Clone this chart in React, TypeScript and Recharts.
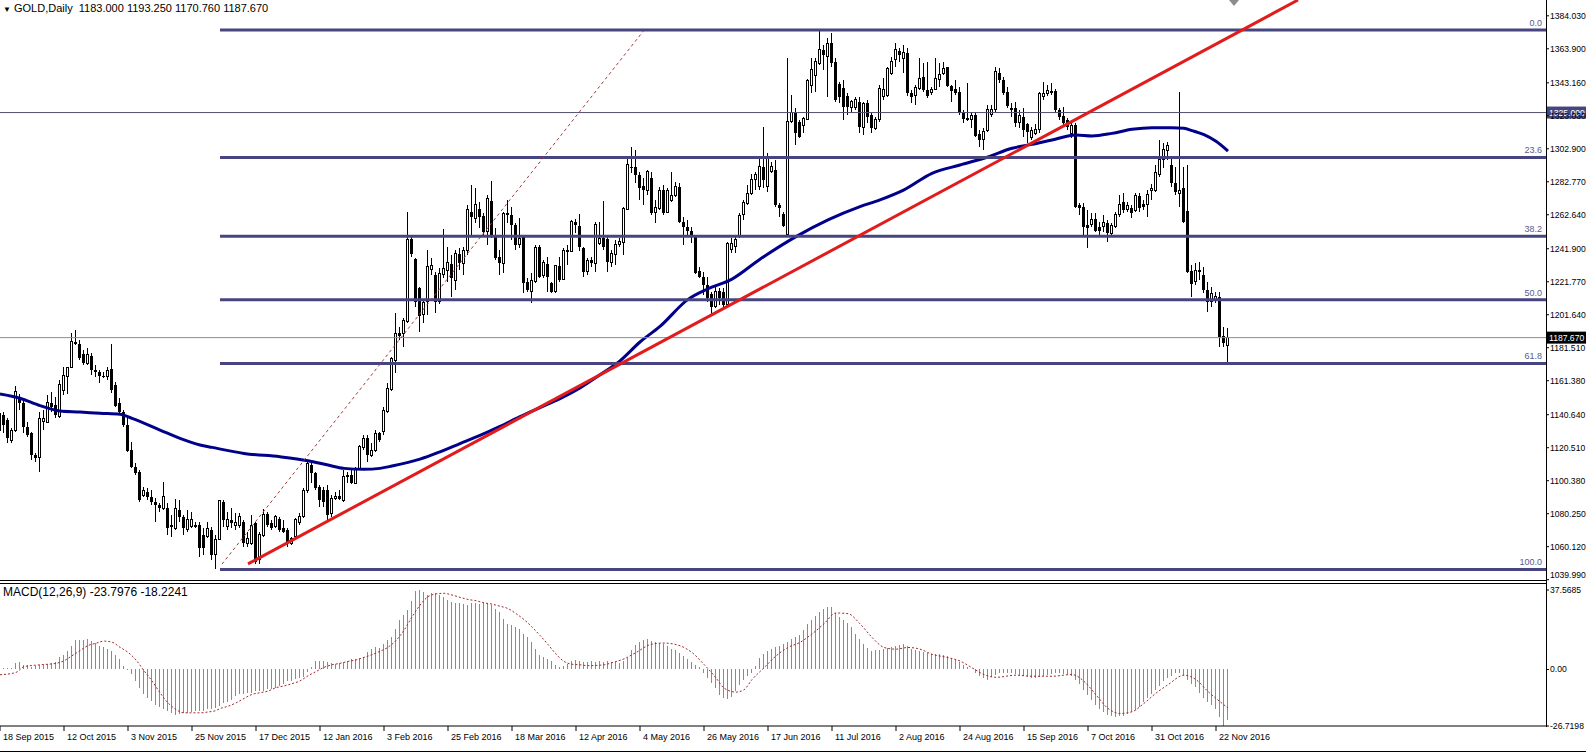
import React from 'react';
import { ComposedChart, Bar, Line, XAxis, YAxis, ReferenceLine } from 'recharts';

const FONT = '"Liberation Sans", Arial, sans-serif';

// ---------- daily OHLC (bar 0 = 18 Sep 2015 ... bar 307 = 25 Nov 2016) ----------
const opens = [
  1131.3,1140.5,1137.4,1125.2,1131.3,1151.7,1147.6,1133.4,1129.3,1116.1,
  1114.4,1136.4,1136.0,1147.6,1146.6,1139.5,1155.7,1163.9,1169.4,1184.8,
  1183.6,1177.5,1172.0,1176.3,1167.9,1166.5,1164.5,1163.9,1168.5,1158.8,
  1147.6,1142.5,1134.4,1119.1,1108.9,1105.9,1091.3,1093.7,1090.6,1087.6,
  1085.6,1083.5,1083.9,1073.4,1071.3,1082.5,1078.4,1070.3,1072.3,1073.4,
  1073.4,1067.3,1066.2,1070.3,1055.1,1064.6,1087.6,1072.3,1076.4,1073.3,
  1073.3,1075.3,1062.1,1062.1,1074.7,1052.0,1067.2,1080.0,1074.3,1072.3,
  1077.0,1071.3,1070.3,1062.1,1066.2,1074.7,1078.4,1094.7,1109.9,1104.8,
  1096.7,1094.7,1094.7,1080.4,1089.6,1091.0,1088.6,1102.8,1103.8,1098.7,
  1107.9,1120.7,1126.2,1116.0,1119.1,1129.2,1130.3,1142.5,1156.1,1174.0,
  1190.3,1190.3,1197.4,1247.8,1235.6,1217.7,1201.5,1209.6,1229.3,1225.9,
  1209.6,1225.9,1228.9,1232.6,1222.8,1238.7,1232.6,1240.7,1264.5,1260.5,
  1265.9,1261.9,1252.3,1271.2,1250.3,1236.7,1233.0,1263.5,1262.5,1256.4,
  1244.2,1248.9,1221.8,1215.7,1221.8,1242.8,1225.3,1232.6,1220.8,1215.7,
  1231.4,1223.4,1240.5,1240.5,1258.4,1256.0,1242.1,1227.9,1235.0,1233.0,
  1245.2,1248.3,1247.8,1233.6,1238.1,1244.6,1245.8,1266.1,1292.0,1292.0,
  1286.9,1280.4,1277.7,1284.9,1264.1,1266.5,1277.7,1264.1,1271.6,1274.3,
  1279.8,1258.4,1255.4,1252.7,1249.9,1228.3,1224.8,1219.8,1214.1,1206.5,
  1216.1,1215.7,1208.0,1241.2,1243.2,1249.3,1263.1,1269.6,1275.7,1283.9,
  1279.8,1292.0,1279.8,1289.0,1290.0,1268.6,1263.1,1250.3,1319.5,1324.9,
  1319.5,1317.4,1320.9,1341.8,1347.9,1355.1,1363.2,1359.1,1367.3,1356.1,
  1342.4,1339.8,1335.1,1328.2,1328.2,1331.7,1316.0,1330.7,1323.5,1315.4,
  1320.5,1334.7,1335.7,1348.9,1357.1,1362.8,1358.1,1361.6,1336.8,1335.1,
  1339.8,1346.9,1338.8,1337.2,1339.2,1345.3,1349.0,1352.6,1341.2,1339.2,
  1337.8,1324.5,1321.5,1320.9,1323.5,1311.9,1308.3,1314.0,1324.1,1326.6,
  1349.4,1344.9,1337.8,1327.6,1327.6,1318.8,1322.1,1318.0,1309.9,1312.3,
  1314.8,1334.7,1336.8,1337.8,1338.4,1326.6,1322.9,1320.5,1312.3,1317.4,
  1268.6,1267.6,1256.4,1256.4,1259.8,1255.4,1255.4,1257.8,1250.9,1255.4,
  1263.1,1270.6,1266.0,1266.6,1265.1,1274.1,1269.2,1268.6,1277.7,1277.7,
  1287.5,1296.4,1302.1,1293.0,1281.8,1275.7,1278.7,1265.1,1228.5,1221.8,
  1227.9,1225.9,1216.7,1209.6,1210.6,1212.6,1188.7,1183.0,
];
const highs = [
  1142.5,1142.5,1138.4,1132.3,1158.2,1153.3,1149.7,1136.0,1130.3,1117.1,
  1142.5,1143.5,1152.7,1154.7,1151.7,1161.8,1170.0,1170.0,1190.3,1192.3,
  1186.2,1180.1,1181.2,1178.1,1171.0,1167.9,1166.9,1170.0,1183.6,1160.8,
  1150.7,1143.5,1138.4,1124.2,1111.0,1106.9,1096.7,1095.7,1094.7,1089.6,
  1086.6,1099.4,1086.6,1079.5,1089.2,1088.6,1079.5,1082.5,1081.5,1075.4,
  1075.4,1071.3,1075.4,1072.3,1067.3,1088.9,1088.6,1081.4,1083.5,1080.4,
  1080.4,1076.4,1069.3,1079.4,1075.3,1069.2,1082.9,1081.4,1076.4,1079.4,
  1078.4,1076.4,1071.3,1066.2,1077.4,1080.4,1095.7,1113.0,1111.9,1105.8,
  1097.7,1096.7,1097.7,1091.6,1093.6,1094.7,1106.9,1105.8,1107.9,1108.9,
  1122.1,1128.2,1128.2,1123.1,1131.3,1130.3,1145.3,1159.8,1176.0,1202.5,
  1194.3,1199.4,1264.5,1249.3,1236.0,1218.8,1210.6,1241.1,1236.0,1227.9,
  1229.9,1253.8,1243.2,1238.1,1241.1,1242.2,1243.2,1268.6,1280.8,1278.8,
  1270.6,1263.5,1274.7,1283.4,1254.4,1241.1,1264.5,1271.6,1267.6,1257.4,
  1260.5,1250.3,1223.8,1226.9,1244.2,1244.2,1235.0,1237.0,1221.8,1232.0,
  1237.0,1242.1,1244.2,1259.4,1260.0,1262.9,1243.2,1236.0,1237.0,1258.4,
  1258.4,1271.0,1249.3,1241.1,1247.3,1248.3,1267.6,1297.1,1304.2,1302.1,
  1288.9,1284.9,1289.9,1288.9,1271.6,1279.8,1280.8,1278.8,1288.9,1282.4,
  1281.8,1261.5,1259.4,1255.4,1250.3,1231.0,1227.9,1224.8,1215.7,1219.8,
  1217.7,1217.7,1246.2,1248.3,1249.3,1263.5,1271.7,1280.8,1287.5,1289.0,
  1298.1,1316.4,1300.1,1295.1,1296.1,1269.6,1264.6,1358.1,1335.7,1327.6,
  1320.5,1322.5,1345.3,1358.1,1358.1,1375.2,1366.2,1370.3,1373.8,1358.1,
  1343.9,1344.9,1336.8,1332.7,1334.7,1334.7,1331.7,1332.7,1324.5,1322.5,
  1341.8,1345.9,1353.0,1359.1,1367.7,1364.2,1366.2,1364.2,1338.8,1341.8,
  1358.1,1355.1,1356.1,1340.8,1358.1,1355.1,1356.1,1353.0,1341.8,1344.9,
  1340.8,1326.6,1342.9,1325.6,1325.6,1314.4,1315.4,1329.6,1329.6,1353.0,
  1352.0,1346.9,1340.8,1330.7,1331.7,1326.6,1327.6,1318.4,1316.4,1318.0,
  1337.8,1343.9,1341.8,1342.9,1339.2,1327.6,1328.2,1321.5,1319.5,1318.4,
  1269.6,1269.6,1265.5,1263.5,1263.5,1258.4,1262.5,1259.4,1257.4,1264.5,
  1274.7,1275.7,1270.6,1268.6,1275.7,1275.7,1271.6,1277.7,1281.4,1293.0,
  1308.3,1306.2,1307.2,1298.1,1292.0,1337.7,1291.6,1293.0,1231.9,1233.4,
  1234.0,1230.9,1221.8,1218.8,1215.7,1215.7,1194.3,1193.25,
];
const lows = [
  1130.3,1129.3,1123.2,1123.2,1130.3,1143.5,1129.3,1127.3,1113.0,1112.0,
  1105.9,1131.3,1135.4,1142.5,1138.4,1138.4,1152.7,1153.1,1169.0,1183.2,
  1174.0,1171.0,1171.0,1164.9,1163.9,1159.8,1162.9,1161.8,1153.7,1145.6,
  1140.5,1133.4,1118.1,1107.9,1103.9,1087.6,1090.6,1088.6,1085.6,1075.4,
  1081.5,1082.5,1067.3,1066.2,1070.3,1075.4,1067.3,1069.3,1071.3,1071.3,
  1054.0,1055.1,1065.2,1052.0,1046.5,1064.2,1072.3,1070.3,1071.3,1070.3,
  1071.3,1060.1,1060.1,1061.1,1049.5,1049.5,1066.2,1072.3,1070.3,1071.3,
  1069.2,1068.2,1060.1,1061.1,1065.2,1073.3,1077.4,1092.6,1098.7,1094.7,
  1084.5,1084.5,1075.3,1078.4,1088.6,1088.6,1087.6,1098.7,1098.3,1098.3,
  1106.9,1119.1,1111.9,1115.0,1118.1,1124.2,1128.2,1141.5,1155.0,1165.9,
  1186.2,1182.1,1196.4,1237.0,1206.5,1191.3,1196.4,1201.5,1225.9,1202.5,
  1208.2,1223.8,1221.8,1212.6,1216.7,1228.9,1225.9,1238.1,1250.3,1257.4,
  1254.4,1249.3,1244.2,1248.3,1235.0,1225.9,1226.9,1257.4,1247.3,1241.1,
  1242.2,1214.7,1215.7,1209.0,1220.8,1223.8,1223.8,1215.7,1215.1,1214.7,
  1221.8,1222.8,1232.0,1240.1,1251.3,1240.5,1224.8,1225.9,1230.9,1227.9,
  1244.2,1241.1,1227.9,1230.9,1232.0,1243.2,1238.1,1265.5,1287.9,1281.8,
  1271.6,1268.6,1274.7,1262.5,1257.4,1265.5,1262.5,1263.5,1270.6,1273.7,
  1257.4,1244.2,1250.3,1245.2,1226.3,1223.8,1213.7,1209.6,1201.9,1205.9,
  1207.6,1206.5,1207.6,1239.1,1239.1,1248.3,1259.5,1268.6,1274.7,1277.8,
  1277.8,1278.8,1276.7,1287.9,1267.6,1261.5,1255.4,1249.7,1318.4,1305.2,
  1309.3,1312.3,1320.5,1336.8,1337.8,1354.0,1351.0,1334.7,1353.0,1331.7,
  1330.7,1320.5,1323.5,1324.5,1326.6,1312.3,1311.3,1318.4,1312.3,1314.4,
  1319.5,1332.7,1334.7,1347.9,1353.0,1356.1,1349.0,1335.2,1330.7,1329.6,
  1338.8,1337.8,1333.7,1335.7,1338.8,1340.8,1347.9,1340.8,1331.7,1335.7,
  1323.5,1318.4,1320.0,1315.4,1310.3,1304.2,1302.2,1313.4,1322.5,1325.6,
  1342.9,1335.7,1327.6,1322.5,1316.4,1315.4,1310.3,1306.2,1308.3,1311.3,
  1312.3,1332.7,1335.1,1335.7,1325.0,1320.5,1317.4,1314.4,1309.3,1266.5,
  1262.5,1250.3,1242.1,1255.4,1252.3,1250.3,1252.3,1246.2,1249.3,1254.4,
  1261.5,1263.9,1264.5,1260.4,1264.5,1264.5,1265.5,1261.5,1271.6,1276.7,
  1285.9,1290.9,1296.0,1279.8,1274.7,1267.6,1257.4,1226.9,1212.6,1219.8,
  1222.8,1214.7,1203.5,1206.5,1208.6,1182.1,1182.1,1170.76,
];
const closes = [
  1141.5,1134.4,1126.2,1131.3,1154.7,1147.6,1133.4,1128.3,1116.1,1114.0,
  1138.4,1138.4,1148.2,1145.6,1140.5,1158.8,1164.5,1169.6,1185.2,1183.6,
  1175.1,1172.0,1177.1,1167.9,1166.5,1164.5,1163.9,1167.9,1155.7,1146.2,
  1142.5,1134.4,1118.5,1108.9,1104.9,1088.6,1094.1,1090.6,1087.6,1085.6,
  1083.5,1090.6,1071.3,1072.3,1083.5,1078.4,1071.3,1077.0,1077.0,1072.3,
  1059.1,1059.1,1071.3,1055.1,1064.2,1088.0,1076.4,1076.4,1074.3,1074.7,
  1078.4,1062.1,1065.2,1073.3,1050.9,1067.6,1080.0,1073.3,1071.3,1078.4,
  1070.3,1069.2,1063.1,1065.2,1076.4,1078.8,1094.7,1110.9,1104.8,1095.7,
  1088.6,1087.6,1079.4,1089.6,1090.6,1089.0,1102.8,1103.8,1098.7,1107.9,
  1121.1,1126.2,1116.0,1119.1,1129.2,1125.2,1143.5,1156.7,1175.0,1190.3,
  1188.8,1198.4,1247.8,1238.7,1209.6,1200.9,1209.0,1231.0,1231.4,1209.6,
  1226.9,1229.9,1233.4,1223.8,1239.1,1233.0,1240.7,1266.0,1261.5,1268.6,
  1261.5,1252.3,1272.7,1250.3,1236.0,1233.0,1263.5,1262.5,1256.4,1244.2,
  1248.3,1220.8,1216.7,1222.8,1242.8,1224.8,1233.4,1224.4,1215.7,1231.4,
  1222.8,1241.1,1241.1,1258.4,1256.4,1243.2,1227.9,1235.0,1233.0,1256.4,
  1248.3,1243.2,1234.0,1239.1,1244.2,1246.6,1266.5,1293.4,1291.0,1286.9,
  1278.8,1277.7,1288.9,1263.5,1266.9,1277.7,1263.5,1277.7,1274.3,1279.8,
  1258.4,1255.4,1252.7,1250.3,1226.9,1224.8,1219.8,1211.6,1206.5,1216.1,
  1211.6,1207.6,1245.2,1245.2,1247.3,1261.9,1270.0,1275.7,1284.3,1286.9,
  1292.0,1283.9,1297.7,1292.0,1268.6,1266.6,1255.8,1319.5,1324.9,1312.3,
  1310.3,1321.5,1344.5,1351.0,1356.1,1363.2,1360.1,1366.9,1355.1,1332.7,
  1334.3,1328.6,1328.6,1331.7,1332.7,1316.0,1330.7,1322.5,1315.4,1320.9,
  1339.8,1339.2,1352.0,1356.1,1363.2,1360.1,1361.6,1336.8,1334.7,1340.4,
  1345.9,1338.8,1335.1,1339.2,1345.9,1348.5,1352.0,1341.2,1338.4,1337.2,
  1324.5,1320.9,1320.5,1322.9,1310.7,1308.3,1313.4,1326.6,1326.6,1350.0,
  1344.9,1337.2,1329.0,1326.6,1318.4,1322.9,1314.4,1313.4,1314.0,1314.8,
  1336.8,1336.8,1338.4,1338.0,1326.6,1322.1,1318.8,1316.4,1317.4,1267.6,
  1266.5,1255.4,1254.4,1259.8,1252.9,1252.9,1257.8,1251.3,1255.8,1263.1,
  1269.2,1265.5,1268.0,1263.5,1274.1,1266.5,1267.2,1275.3,1278.7,1288.3,
  1296.4,1302.5,1304.6,1281.8,1276.7,1277.7,1258.4,1227.9,1220.4,1228.5,
  1228.9,1216.7,1209.6,1214.7,1212.6,1188.3,1184.2,1187.67,
];

// ---------- moving average (read at sample bars) ----------
const maBars = [0,5,10,15,20,25,30,33,40,45,50,53,61,70,77,82,86,91,95,98,105,110,115,120,125,130,135,140,145,150,155,160,165,172,177,183,190,199,207,215,220,226,233,240,247,253,258,263,269,273,278,283,288,293,296,298,301,304,307];
const maValues = [1153.3,1150.7,1146.2,1142.9,1142.3,1141.5,1140.9,1138.4,1131.3,1126.2,1122.2,1120.7,1117.0,1115.0,1112.6,1109.9,1107.9,1107.3,1107.9,1109.3,1113.5,1118.0,1123.0,1128.0,1133.5,1139.5,1145.0,1150.5,1157.0,1165.0,1173.5,1185.0,1194.5,1211.0,1217.5,1223.4,1235.5,1249.3,1259.5,1267.6,1271.7,1277.8,1287.9,1293.0,1297.9,1303.2,1305.6,1308.3,1311.3,1310.7,1312.3,1314.8,1315.8,1315.8,1315.4,1314.0,1311.5,1307.5,1301.5];

// ---------- MACD(12,26,9) ----------
const macdValues = [
  0.5,0.5,0.6,0.8,2.9,3.3,2.2,2.2,1.3,1.8,
  2.2,2.2,2.5,2.9,3.3,5.7,7.0,8.9,11.3,13.7,
  14.0,14.0,14.5,13.4,12.4,11.3,10.5,9.7,8.6,7.0,
  4.9,1.8,-0.3,-2.2,-5.4,-8.6,-11.8,-13.4,-15.0,-16.6,
  -17.8,-18.9,-19.7,-20.5,-21.7,-21.0,-20.5,-20.5,-20.2,-19.4,
  -19.7,-19.7,-18.9,-18.6,-18.1,-17.4,-15.8,-15.3,-14.2,-12.6,
  -11.8,-11.8,-11.0,-11.0,-10.2,-10.2,-10.2,-9.4,-9.4,-8.6,
  -7.8,-6.7,-5.4,-5.4,-4.6,-3.8,-3.5,-1.4,1.0,3.8,
  4.1,4.1,3.3,2.9,2.5,2.9,3.3,4.1,4.9,4.9,
  5.4,6.0,8.1,9.7,10.5,10.2,12.1,14.0,15.3,19.3,
  23.2,25.6,28.0,32.5,37.3,37.57,36.8,35.2,36.0,36.3,
  35.2,34.1,32.8,32.0,31.5,31.2,30.9,30.4,31.2,31.5,
  30.9,31.2,31.5,30.4,28.8,27.2,24.0,21.7,20.9,20.1,
  19.3,16.9,15.3,12.9,9.7,7.0,6.0,4.9,3.8,2.2,
  1.3,1.8,2.5,3.8,4.5,3.8,3.3,3.3,3.8,3.3,
  3.8,3.3,4.1,3.3,3.3,3.2,4.0,5.6,9.0,11.5,
  12.8,13.8,14.4,13.6,12.8,12.6,12.2,11.0,9.6,9.0,
  7.8,6.6,5.0,3.6,2.2,1.0,-1.5,-4.0,-6.5,-8.8,
  -12.0,-13.5,-13.9,-12.8,-10.0,-7.2,-5.0,-3.0,-1.6,1.5,
  5.5,7.5,8.5,9.6,10.5,11.2,12.0,13.0,14.2,15.2,
  16.5,18.5,21.6,23.5,25.2,27.0,28.4,29.3,29.6,26.8,
  25.0,23.6,22.0,20.0,17.0,14.2,12.0,10.0,8.8,9.0,
  9.3,9.6,10.2,10.8,11.2,11.6,12.0,11.0,9.8,9.0,
  8.6,8.2,7.8,7.5,7.3,7.2,6.8,6.3,5.6,4.5,
  3.4,2.2,1.0,0.0,-1.5,-3.2,-4.2,-4.8,-3.6,-2.4,
  -1.9,-1.6,-1.6,-1.8,-2.1,-2.4,-3.0,-3.6,-4.0,-3.8,
  -3.4,-3.2,-2.7,-2.1,-1.6,-1.8,-2.0,-2.4,-3.0,-5.0,
  -6.8,-9.5,-12.0,-14.5,-17.0,-18.8,-20.2,-21.6,-22.0,-22.4,
  -22.1,-21.8,-21.0,-20.0,-19.2,-17.8,-15.6,-13.5,-11.5,-9.8,
  -7.6,-5.5,-4.0,-3.0,-1.8,-1.6,-2.4,-5.0,-6.8,-8.5,
  -11.2,-13.5,-15.5,-17.0,-18.5,-22.5,-26.7,-23.8,
];
const signalBars = [0,4,6,10,14,16,18,20,22,24,26,28,30,32,34,36,38,40,42,44,46,50,52,54,55,57,59,61,63,65,67,69,71,73,75,77,79,81,83,85,87,89,91,93,95,97,99,101,103,105,107,109,111,113,115,117,119,121,123,125,127,129,131,133,135,137,139,141,143,145,147,151,153,156,159,163,166,170,173,176,179,181,184,186,188,191,194,197,200,203,206,209,212,215,218,221,224,227,230,233,237,240,243,246,249,254,258,263,268,271,274,277,280,283,286,289,292,296,299,302,305,307];
const signalValues = [-2.5,-1.4,1.3,2.2,2.9,4.1,6.5,8.9,11.3,12.4,13.4,12.9,10.5,8.1,4.5,-0.6,-5.4,-11.0,-15.8,-18.9,-20.5,-20.5,-20.1,-19.4,-18.5,-17.4,-15.8,-13.7,-11.8,-11.0,-10.2,-8.6,-7.8,-6.7,-5.4,-3.0,-1.0,1.0,2.2,2.9,3.8,4.5,5.7,7.0,8.6,10.5,13.7,18.5,24.8,30.4,34.4,35.7,36.0,35.2,34.1,33.1,32.5,31.5,30.9,29.9,28.8,26.4,23.6,20.1,16.1,11.8,7.3,3.8,2.5,2.2,1.8,2.2,3.2,5.0,8.0,12.0,12.5,11.2,8.0,2.4,-4.0,-8.8,-10.7,-9.6,-4.8,0.8,6.4,10.4,12.8,16.8,21.6,26.7,26.4,21.6,15.2,10.4,9.6,10.4,9.6,7.2,5.6,4.0,0.8,-2.4,-3.7,-2.7,-3.2,-3.2,-2.4,-5.6,-12.0,-18.4,-20.8,-20.0,-16.0,-11.2,-7.2,-2.7,-4.8,-10.4,-15.2,-18.22];

// ---------- axes ----------
const dateTickBars = [0,16,32,48,64,80,96,112,128,144,160,176,192,208,224,240,256,272,288,304];
const dateLabels = ['18 Sep 2015','12 Oct 2015','3 Nov 2015','25 Nov 2015','17 Dec 2015','12 Jan 2016','3 Feb 2016','25 Feb 2016','18 Mar 2016','12 Apr 2016','4 May 2016','26 May 2016','17 Jun 2016','11 Jul 2016','2 Aug 2016','24 Aug 2016','15 Sep 2016','7 Oct 2016','31 Oct 2016','22 Nov 2016'];
const priceTicks = [1384.03,1363.9,1343.16,1323.03,1302.9,1282.77,1262.64,1241.9,1221.77,1201.64,1181.51,1161.38,1140.64,1120.51,1100.38,1080.25,1060.12,1039.99];
const PRICE_MIN = 1039.18;
const PRICE_MAX = 1393.67;
const MACD_MAX = 37.5685;
const MACD_MIN = -26.7198;
const X_MAX = 386.5;

// ---------- drawn objects ----------
const fibHigh = 1375.3;
const fibLow = 1046.2;
const fibStartBar = 55;
const fibLevels = [0, 23.6, 38.2, 50, 61.8, 100];
const fibLabels = ['0.0', '23.6', '38.2', '50.0', '61.8', '100.0'];
const trendStart = { x: 62, y: 1049.6 };
const trendEnd = { x: 324.5, y: 1393.67 };
const fibDiagStart = { x: 55.5, y: 1049.5 };
const fibDiagEnd = { x: 161, y: 1375.2 };
const markedLevel = 1325.0;
const lastPrice = 1187.67;

const FIB_COLOR = '#47457f';
const AXIS_FONT = 8.6;
const PRICE_PANEL_H = 581;

const maByBar = new Map<number, number>(maBars.map((b, k) => [b, maValues[k]]));
const sigByBar = new Map<number, number>(signalBars.map((b, k) => [b, signalValues[k]]));
const N = Math.min(opens.length, highs.length, lows.length, closes.length);

const priceData = Array.from({ length: N }, (_, i) => ({
  i,
  o: opens[i],
  h: highs[i],
  l: lows[i],
  c: closes[i],
  range: [lows[i], highs[i]],
  ma: maByBar.has(i) ? maByBar.get(i) : null,
}));

const macdData = macdValues.map((v, i) => ({
  i,
  macd: v,
  sig: sigByBar.has(i) ? sigByBar.get(i) : null,
}));

function Candle(props: any) {
  const { x, y, width, height, payload } = props;
  if (x == null || y == null || !payload || isNaN(x) || isNaN(y)) return null;
  const { o, h, l, c } = payload;
  const top = Math.min(y, y + height);
  const hh = Math.abs(height);
  const k = h - l > 0 ? hh / (h - l) : 0;
  const py = (p: number) => top + (h - p) * k;
  const cx = Math.floor(x + width / 2) + 0.5;
  const bTop = py(Math.max(o, c));
  const bBot = py(Math.min(o, c));
  const bodyH = Math.max(bBot - bTop, 1);
  if (c >= o) {
    return (
      <g shapeRendering="crispEdges">
        <line x1={cx} x2={cx} y1={top} y2={bTop} stroke="#000" strokeWidth={1} />
        <line x1={cx} x2={cx} y1={bTop + bodyH} y2={top + hh} stroke="#000" strokeWidth={1} />
        <rect x={cx - 1} y={bTop} width={2} height={bodyH} fill="#fff" stroke="#000" strokeWidth={1} />
      </g>
    );
  }
  return (
    <g shapeRendering="crispEdges">
      <line x1={cx} x2={cx} y1={top} y2={top + hh} stroke="#000" strokeWidth={1} />
      <rect x={cx - 1.5} y={bTop} width={3} height={bodyH} fill="#000" />
    </g>
  );
}

function HistBar(props: any) {
  const { x, y, width, height } = props;
  if (x == null || y == null || isNaN(x) || isNaN(y) || !height) return null;
  const cx = Math.floor(x + width / 2) + 0.5;
  const y1 = Math.min(y, y + height);
  const y2 = Math.max(y, y + height);
  return <line x1={cx} x2={cx} y1={y1} y2={y2} stroke="#8a8a8a" strokeWidth={1} shapeRendering="crispEdges" />;
}

function DateTick(props: any) {
  const { x, y, payload } = props;
  const idx = dateTickBars.indexOf(payload.value);
  const label = idx >= 0 ? dateLabels[idx] : '';
  return (
    <text x={x + 3} y={y + 9} fontSize={9} fontFamily={FONT} fill="#000">
      {label}
    </text>
  );
}

function PriceTick(props: any) {
  const { x, y, payload, digits, maxBaseline } = props;
  const v = payload.value as number;
  const txt = v === 0 ? '0.00' : v.toFixed(digits);
  const base = maxBaseline != null ? Math.min(y + 3, maxBaseline) : y + 3;
  return (
    <text x={x} y={base} fontSize={AXIS_FONT} fontFamily={FONT} fill="#000">
      {txt}
    </text>
  );
}

const tagLabel = (text: string, bg: string) => (props: any) => {
  const vb = props.viewBox || {};
  const x = (vb.x ?? 0) + (vb.width ?? 0);
  const y = vb.y ?? 0;
  return (
    <g>
      <rect x={x + 1} y={y - 6} width={40} height={12} fill={bg} />
      <text x={x + 3} y={y + 3} fill="#fff" fontSize={AXIS_FONT} fontFamily={FONT}>
        {text}
      </text>
    </g>
  );
};

const fibLabel = (text: string) => (props: any) => {
  const vb = props.viewBox || {};
  const x = (vb.x ?? 0) + (vb.width ?? 0);
  const y = vb.y ?? 0;
  return (
    <text x={x - 4} y={y - 4} textAnchor="end" fill="#5a5a8c" fontSize={9} fontFamily={FONT}>
      {text}
    </text>
  );
};

export default function App() {
  return (
    <div style={{ position: 'relative', width: 1586, height: 756, background: '#fff', overflow: 'hidden', fontFamily: FONT }}>
      <style>{'body{margin:0;background:#fff;}'}</style>

      {/* price panel */}
      <div style={{ position: 'absolute', left: 0, top: 0 }}>
        <ComposedChart width={1586} height={PRICE_PANEL_H} data={priceData} margin={{ top: 0, right: 0, bottom: 0, left: 0 }}>
          <XAxis type="number" dataKey="i" domain={[0, X_MAX]} allowDataOverflow hide />
          <YAxis
            orientation="right"
            width={40}
            type="number"
            domain={[PRICE_MIN, PRICE_MAX]}
            allowDataOverflow
            ticks={priceTicks}
            interval={0}
            axisLine={false}
            tickLine={{ stroke: '#000' }}
            tickSize={3}
            tickMargin={1}
            tick={(p: any) => <PriceTick {...p} digits={3} maxBaseline={PRICE_PANEL_H - 3} />}
          />
          <Bar dataKey="range" shape={(p: any) => <Candle {...p} />} barSize={3} isAnimationActive={false} />
          <Line type="monotone" dataKey="ma" stroke="#00008b" strokeWidth={3} dot={false} activeDot={false} connectNulls isAnimationActive={false} />
          {fibLevels.map((lv, k) => {
            const price = fibHigh - ((fibHigh - fibLow) * lv) / 100;
            return (
              <ReferenceLine
                key={`fib${k}`}
                segment={[{ x: fibStartBar, y: price }, { x: X_MAX, y: price }]}
                stroke={FIB_COLOR}
                strokeWidth={3}
                ifOverflow="visible"
                label={fibLabel(fibLabels[k])}
              />
            );
          })}
          <ReferenceLine y={markedLevel} stroke="#50506e" strokeWidth={1} ifOverflow="visible" label={tagLabel('1325.000', '#46467e')} />
          <ReferenceLine y={lastPrice} stroke="#8c8c8c" strokeWidth={1} ifOverflow="visible" label={tagLabel('1187.670', '#000000')} />
          <ReferenceLine segment={[fibDiagStart, fibDiagEnd]} stroke="#a33a3a" strokeWidth={1} strokeDasharray="3 3" ifOverflow="visible" />
          <ReferenceLine segment={[trendStart, trendEnd]} stroke="#e01c1c" strokeWidth={3} ifOverflow="visible" />
        </ComposedChart>
      </div>

      {/* MACD panel */}
      <div style={{ position: 'absolute', left: 0, top: 583 }}>
        <ComposedChart width={1586} height={173} data={macdData} margin={{ top: 7, right: 0, bottom: 0, left: 0 }}>
          <XAxis
            type="number"
            dataKey="i"
            domain={[0, X_MAX]}
            allowDataOverflow
            ticks={dateTickBars}
            interval={0}
            height={30}
            tickSize={5}
            tickMargin={0}
            axisLine={{ stroke: '#000' }}
            tickLine={{ stroke: '#000' }}
            tick={(p: any) => <DateTick {...p} />}
          />
          <YAxis
            orientation="right"
            width={40}
            type="number"
            domain={[MACD_MIN, MACD_MAX]}
            allowDataOverflow
            ticks={[MACD_MAX, 0, MACD_MIN]}
            interval={0}
            axisLine={false}
            tickLine={{ stroke: '#000' }}
            tickSize={3}
            tickMargin={1}
            tick={(p: any) => <PriceTick {...p} digits={4} />}
          />
          <Bar dataKey="macd" shape={(p: any) => <HistBar {...p} />} barSize={1} isAnimationActive={false} />
          <Line type="monotone" dataKey="sig" stroke="#9e2a2a" strokeWidth={1} strokeDasharray="2 2" dot={false} activeDot={false} connectNulls isAnimationActive={false} />
        </ComposedChart>
      </div>

      {/* frame lines */}
      <div style={{ position: 'absolute', left: 1546, top: 0, width: 1, height: 727, background: '#000' }} />
      <div style={{ position: 'absolute', left: 0, top: 580, width: 1547, height: 1, background: '#000' }} />
      <div style={{ position: 'absolute', left: 0, top: 583, width: 1547, height: 1, background: '#000' }} />
      <div style={{ position: 'absolute', left: 0, top: 751, width: 1586, height: 1, background: '#000' }} />

      {/* chart shift marker */}
      <svg style={{ position: 'absolute', left: 1228, top: 0 }} width={12} height={8}>
        <polygon points="1,0 11,0 6,6" fill="#8c8c8c" />
      </svg>

      {/* titles */}
      <div style={{ position: 'absolute', left: 3, top: 2, fontSize: 11, color: '#000', whiteSpace: 'pre', lineHeight: '13px' }}>
        <span style={{ fontSize: 8 }}>▼</span> GOLD,Daily  1183.000 1193.250 1170.760 1187.670
      </div>
      <div style={{ position: 'absolute', left: 3, top: 585, fontSize: 12, color: '#000', whiteSpace: 'pre', lineHeight: '14px' }}>
        MACD(12,26,9) -23.7976 -18.2241
      </div>
    </div>
  );
}
